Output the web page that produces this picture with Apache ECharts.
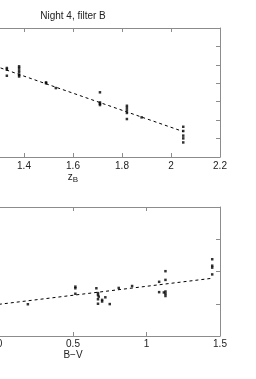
<!DOCTYPE html>
<html><head><meta charset="utf-8">
<script src="https://cdn.jsdelivr.net/npm/echarts@6/dist/echarts.min.js"></script>
<style>html,body{margin:0;padding:0;background:#fff}#c{width:256px;height:379px}</style>
</head><body><div id="c"></div>
<script>
// ---- data ----
const titleText = 'Night 4, filter B';
const airmassZ = [1.33,1.33,1.33, 1.38,1.38,1.38,1.38,1.38,1.38, 1.49,1.49, 1.53, 1.71,1.71,1.71,1.71, 1.82,1.82,1.82,1.82,1.82, 1.88, 2.05,2.05,2.05,2.05,2.05];
const magB     = [0.483,0.474,0.441, 0.492,0.483,0.470,0.459,0.445,0.437, 0.405,0.400, 0.374, 0.351,0.296,0.289,0.282, 0.278,0.266,0.253,0.239,0.206, 0.215, 0.164,0.141,0.116,0.101,0.079];
const fitTopX  = [1.05, 2.05];
const fitTopY  = [0.601, 0.138];
const colorBV  = [0.193, 0.516,0.516,0.516, 0.659, 0.67,0.67,0.675,0.67,0.67, 0.698,0.698, 0.72, 0.75, 0.811, 0.902, 1.086,1.086, 1.118, 1.129,1.129,1.129,1.129,1.129, 1.447,1.447,1.447,1.447];
const residB   = [0.0985, 0.153,0.148,0.131, 0.148, 0.133,0.127,0.122,0.114,0.100, 0.112,0.107, 0.120, 0.099, 0.149, 0.155, 0.168,0.136, 0.135, 0.201,0.174,0.138,0.131,0.124, 0.238,0.218,0.212,0.191];
const fitBotX  = [-0.45, 1.447];
const fitBotY  = [0.0734, 0.179];
const topXRange = [1.0, 2.2, 0.2];
const topYRange = [0, 0.7, 0.1];
const botXRange = [-0.5, 1.5, 0.5];
const botYRange = [0, 0.4, 0.1];

// ---- chart ----
const zip = (a, b) => a.map((v, i) => [v, b[i]]);
const fmt = v => String(Number(v.toFixed(2)));
const GRAY = '#8c8c8c';
const txt = '#222';
const font = 'Liberation Sans, Arial, sans-serif';

function xAx(gi, r, pos, margin, extra) {
  const show = pos === 'bottom';
  return Object.assign({
    type: 'value', gridIndex: gi, position: pos, min: r[0], max: r[1], interval: r[2],
    axisLine: {show: true, onZero: false, lineStyle: {color: GRAY, width: 1}},
    axisTick: {show: true, inside: true, length: 4, lineStyle: {color: GRAY}},
    axisLabel: {show: show, formatter: fmt, fontSize: 10, color: txt, margin: margin, fontFamily: font},
    splitLine: {show: false}
  }, extra || {});
}
function yAx(gi, r, pos) {
  return {
    type: 'value', gridIndex: gi, position: pos, min: r[0], max: r[1], interval: r[2],
    axisLine: {show: true, onZero: false, lineStyle: {color: GRAY, width: 1}},
    axisTick: {show: true, inside: true, length: 4, lineStyle: {color: GRAY}},
    axisLabel: {show: pos === 'left', formatter: fmt, fontSize: 10, color: txt, fontFamily: font},
    splitLine: {show: false}
  };
}

const chart = echarts.init(document.getElementById('c'), null, {renderer: 'canvas'});
chart.setOption({
  animation: false,
  backgroundColor: '#fff',
  title: {
    text: titleText, left: 73, top: 11, textAlign: 'center', padding: 0,
    textStyle: {fontSize: 10, fontWeight: 'normal', color: txt, fontFamily: font}
  },
  grid: [
    {left: -74, top: 28, width: 294, height: 129, containLabel: false, outerBoundsMode: 'none'},
    {left: -74, top: 207, width: 294, height: 129, containLabel: false, outerBoundsMode: 'none'}
  ],
  xAxis: [
    xAx(0, topXRange, 'bottom', 4, {
      name: '{z|z}{s|B}', nameLocation: 'middle', nameGap: 8,
      nameTextStyle: {color: txt, fontFamily: font, rich: {
        z: {fontSize: 10, color: txt, fontFamily: font},
        s: {fontSize: 8, color: txt, fontFamily: font, padding: [6, 0, 0, 0]}
      }}
    }),
    xAx(0, topXRange, 'top', 3),
    xAx(1, botXRange, 'bottom', 3, {
      name: 'B\u2212V', nameLocation: 'middle', nameGap: 10,
      nameTextStyle: {fontSize: 10, color: txt, fontFamily: font}
    }),
    xAx(1, botXRange, 'top', 3)
  ],
  yAxis: [
    yAx(0, topYRange, 'left'),
    yAx(0, topYRange, 'right'),
    yAx(1, botYRange, 'left'),
    yAx(1, botYRange, 'right')
  ],
  series: [
    {type: 'line', xAxisIndex: 0, yAxisIndex: 0, data: zip(fitTopX, fitTopY), symbol: 'none',
     lineStyle: {color: '#000', width: 1, type: [3, 3]}, silent: true},
    {type: 'scatter', xAxisIndex: 0, yAxisIndex: 0, data: zip(airmassZ, magB), symbol: 'rect', symbolSize: 2.5,
     itemStyle: {color: '#000'}},
    {type: 'line', xAxisIndex: 2, yAxisIndex: 2, data: zip(fitBotX, fitBotY), symbol: 'none',
     lineStyle: {color: '#000', width: 1, type: [3, 3]}, silent: true},
    {type: 'scatter', xAxisIndex: 2, yAxisIndex: 2, data: zip(colorBV, residB), symbol: 'rect', symbolSize: 2.5,
     itemStyle: {color: '#000'}}
  ]
});
</script>
</body></html>
